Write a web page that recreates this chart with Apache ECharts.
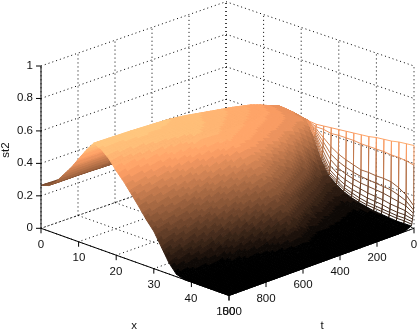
<!DOCTYPE html>
<html><head><meta charset="utf-8">
<style>html,body{margin:0;padding:0;background:#fff}#c{width:419px;height:333px}</style>
<script src="https://cdn.jsdelivr.net/npm/echarts@6/dist/echarts.min.js"></script>
</head><body><div id="c"></div>
<script>
const xTicks=[0,10,20,30,40,50];
const tTicks=[0,200,400,600,800,1000];
const zTicks=[0,0.2,0.4,0.6,0.8,1];
const zTickLabels=['0','0.2','0.4','0.6','0.8','1'];
const xGrid=[0,2,4,6,8,10,12,14,16,18,20,22,24,26,28,30,32,34,36,38,40,42,44,46,48,50];
const tGrid=[0,1,2,3,4,6,8,10,12,15,25,50,100,150,250,350,450,500,600,800,1000];
const zT0=[.26,.27,.30,.33,.37,.41,.45,.47,.465,.46,.45,.44,.435,.44,.445,.45,.455,.46,.465,.47,.48,.485,.49,.50,.505,.51];
const zT1=[.26,.265,.28,.31,.345,.39,.44,.47,.467,.461,.451,.44,.42,.42,.41,.415,.415,.415,.41,.41,.41,.41,.405,.405,.40,.39];
const zT2=[.26,.265,.28,.31,.345,.39,.44,.47,.467,.461,.451,.44,.41,.37,.33,.30,.28,.265,.25,.25,.245,.245,.24,.22,.19,.14];
const zT3=[.26,.265,.28,.31,.345,.39,.44,.471,.467,.462,.452,.44,.40,.345,.285,.255,.235,.22,.21,.205,.20,.195,.19,.175,.155,.115];
const zT4=[.26,.265,.28,.31,.345,.39,.44,.472,.468,.462,.452,.445,.39,.32,.25,.215,.195,.18,.17,.165,.16,.155,.145,.135,.125,.095];
const zT6=[.26,.265,.28,.31,.345,.39,.44,.472,.468,.463,.453,.445,.38,.295,.215,.18,.16,.145,.135,.125,.12,.115,.105,.10,.095,.075];
const zT8=[.26,.265,.28,.31,.345,.39,.44,.473,.469,.464,.454,.45,.375,.275,.19,.155,.13,.115,.105,.095,.09,.085,.075,.07,.07,.06];
const zT10=[.26,.265,.28,.31,.345,.39,.44,.474,.469,.464,.454,.45,.37,.26,.175,.14,.11,.095,.08,.07,.065,.06,.055,.05,.05,.045];
const zT12=[.26,.265,.28,.31,.345,.39,.44,.474,.47,.465,.455,.45,.365,.25,.165,.13,.10,.08,.065,.055,.05,.045,.04,.035,.035,.03];
const zT15=[.26,.265,.28,.31,.345,.39,.44,.475,.47,.465,.455,.45,.36,.24,.16,.12,.09,.07,.055,.045,.035,.03,.025,.02,.02,.02];
const zT25=[.26,.265,.28,.31,.345,.395,.445,.48,.475,.47,.465,.46,.385,.26,.16,.12,.09,.065,.05,.04,.03,.025,.02,.018,.015,.015];
const zT50=[.26,.265,.28,.31,.35,.40,.455,.49,.485,.48,.475,.475,.41,.285,.165,.12,.085,.045,.03,.02,.012,.008,.005,.003,.002,.002];
const zT100=[.26,.265,.285,.32,.36,.41,.475,.515,.51,.50,.49,.48,.45,.35,.23,.15,.105,.06,.035,.022,.01,.005,.002,0,0,0];
const zT150=[.26,.27,.29,.325,.37,.42,.49,.535,.53,.52,.505,.49,.475,.40,.30,.20,.135,.085,.045,.03,.012,.004,.001,0,0,0];
const zT250=[.26,.27,.295,.335,.385,.44,.51,.56,.555,.545,.53,.51,.49,.465,.395,.31,.225,.15,.09,.045,.025,.007,.001,0,0,0];
const zT350=[.26,.27,.30,.345,.395,.46,.53,.58,.575,.565,.555,.54,.525,.505,.45,.375,.32,.245,.175,.10,.03,.015,.003,0,0,0];
const zT450=[.26,.27,.30,.35,.40,.47,.54,.60,.595,.585,.575,.56,.545,.525,.495,.44,.38,.32,.26,.19,.11,.04,.007,0,0,0];
const zT500=[.26,.27,.305,.355,.41,.48,.55,.61,.605,.60,.59,.575,.56,.535,.485,.425,.365,.30,.245,.17,.09,.03,.004,0,0,0];
const zT600=[.26,.275,.31,.36,.42,.49,.56,.625,.62,.615,.61,.60,.55,.495,.44,.38,.32,.26,.19,.11,.04,.007,0,0,0,0];
const zT800=[.26,.28,.32,.38,.44,.51,.58,.635,.63,.615,.58,.52,.47,.41,.35,.285,.23,.15,.07,.015,0,0,0,0,0,0];
const zT1000=[.265,.28,.32,.38,.44,.51,.58,.64,.62,.58,.52,.47,.41,.35,.285,.23,.15,.07,.015,0,0,0,0,0,0,0];
const surface=[zT0,zT1,zT2,zT3,zT4,zT6,zT8,zT10,zT12,zT15,zT25,zT50,zT100,zT150,zT250,zT350,zT450,zT500,zT600,zT800,zT1000];

const zMax=0.65, wireTMax=15, wireXMin=22, bands=24;
const FONT='11.5px "Liberation Sans", Arial, sans-serif';

function copper(z){
  const k=Math.floor(Math.max(0,Math.min(0.9999,z/zMax))*bands);
  const c=k/(bands-1);
  return 'rgb('+Math.round(255*Math.min(1,1.25*c))+','+Math.round(255*0.7812*c)+','+Math.round(255*0.4975*c)+')';
}
// MATLAB-like axonometric view of (x,t,z) on the page plane
function view3(x,t,z){
  const u=x/50,v=t/1000;
  return [226+188*u-185*v, 161.1+67.2*u+67.2*v+2.9*(1-u)*(1-v)-162.3*z];
}
function line(api,a,b,style){
  const p=api.coord(a),q=api.coord(b);
  return {type:'line',shape:{x1:p[0],y1:p[1],x2:q[0],y2:q[1]},style:style};
}
function text(api,s,pt,align,extra){
  const p=api.coord(pt);
  return Object.assign({type:'text',style:{text:s,x:Math.round(p[0]),y:Math.round(p[1]),font:FONT,fill:'#111',align:align,verticalAlign:'middle'}},extra||{});
}
const dotted={stroke:'#000',lineWidth:1,lineDash:[1,3],fill:null};
const solid={stroke:'#000',lineWidth:1,fill:null};

function renderGrid(params,api){
  const ch=[];
  zTicks.forEach(z=>{
    ch.push(line(api,view3(0,1000,z),view3(0,0,z),dotted));
    ch.push(line(api,view3(0,0,z),view3(50,0,z),dotted));
  });
  tTicks.forEach(t=>{
    ch.push(line(api,view3(0,t,0),view3(0,t,1),dotted));
    ch.push(line(api,view3(0,t,0),view3(50,t,0),dotted));
  });
  xTicks.forEach(x=>{
    ch.push(line(api,view3(x,0,0),view3(x,0,1),dotted));
    ch.push(line(api,view3(x,0,0),view3(x,1000,0),dotted));
  });
  return {type:'group',children:ch};
}
function renderCell(params,api){
  const i=api.value(0),j=api.value(1);
  const x0=xGrid[i],x1=xGrid[i+1],t0=tGrid[j],t1=tGrid[j+1];
  const a=surface[j][i],b=surface[j][i+1],c=surface[j+1][i],d=surface[j+1][i+1];
  const ch=[];
  if(t1<=wireTMax && x0>=wireXMin){
    const mk=(p,q,zz)=>line(api,p,q,{stroke:copper(0.1+0.9*zz),lineWidth:1,fill:null});
    ch.push(mk(view3(x0,t0,a),view3(x1,t0,b),(a+b)/2));
    ch.push(mk(view3(x0,t0,a),view3(x0,t1,c),(a+c)/2));
    ch.push(mk(view3(x1,t0,b),view3(x1,t1,d),(b+d)/2));
    return {type:'group',children:ch};
  }
  const nx=4,nt=Math.max(1,Math.min(10,Math.ceil((t1-t0)/20)));
  const Z=(p,q)=>a*(1-p)*(1-q)+b*p*(1-q)+c*(1-p)*q+d*p*q;
  for(let m=0;m<nt;m++){
    for(let n=0;n<nx;n++){
      const p0=n/nx,p1=(n+1)/nx,q0=m/nt,q1=(m+1)/nt;
      const corners=[[p0,q0],[p1,q0],[p1,q1],[p0,q1]];
      let sum=0;
      const pts=corners.map(r=>{
        const z=Z(r[0],r[1]);sum+=z;
        return api.coord(view3(x0+(x1-x0)*r[0],t0+(t1-t0)*r[1],z));
      });
      const col=copper(sum/4);
      ch.push({type:'polygon',shape:{points:pts},style:{fill:col,stroke:col,lineWidth:1}});
    }
  }
  return {type:'group',children:ch};
}
function renderAxes(params,api){
  const ch=[];
  ch.push(line(api,view3(0,1000,0),view3(0,1000,1),solid));
  ch.push(line(api,view3(0,1000,0),view3(50,1000,0),solid));
  ch.push(line(api,view3(50,1000,0),view3(50,0,0),solid));
  zTicks.forEach((z,k)=>{
    const p=view3(0,1000,z);
    ch.push(line(api,p,[p[0]-5,p[1]],solid));
    ch.push(text(api,zTickLabels[k],[p[0]-8,p[1]],'right'));
  });
  xTicks.forEach(x=>{
    const p=view3(x,1000,0);
    ch.push(line(api,p,[p[0],p[1]+5],solid));
    ch.push(text(api,String(x),[p[0],p[1]+16.5],'center'));
  });
  tTicks.forEach(t=>{
    const p=view3(50,t,0);
    ch.push(line(api,p,[p[0],p[1]+5],solid));
    ch.push(text(api,String(t),[p[0],p[1]+16.5],'center'));
  });
  ch.push(text(api,'x',[134,326],'center'));
  ch.push(text(api,'t',[322,326],'center'));
  const st=api.coord([6,150]);
  ch.push({type:'text',x:st[0],y:st[1],rotation:Math.PI/2,style:{text:'st2',x:0,y:0,font:FONT,fill:'#111',align:'center',verticalAlign:'middle'}});
  return {type:'group',children:ch};
}
const cells=[];
for(let j=0;j<tGrid.length-1;j++)for(let i=0;i<xGrid.length-1;i++)cells.push([i,j]);

const chart=echarts.init(document.getElementById('c'),null,{renderer:'canvas',width:419,height:333});
chart.setOption({
  animation:false,
  backgroundColor:'#fff',
  grid:{left:0,right:0,top:0,bottom:0},
  xAxis:{type:'value',min:0,max:419,show:false},
  yAxis:{type:'value',min:0,max:333,inverse:true,show:false},
  series:[
    {type:'custom',coordinateSystem:'cartesian2d',renderItem:renderGrid,data:[[0,0]],silent:true,clip:false,z:1,encode:{x:0,y:1}},
    {type:'custom',coordinateSystem:'cartesian2d',renderItem:renderCell,data:cells,silent:true,clip:false,z:2,encode:{x:0,y:1},progressive:0},
    {type:'custom',coordinateSystem:'cartesian2d',renderItem:renderAxes,data:[[0,0]],silent:true,clip:false,z:3,encode:{x:0,y:1}}
  ]
});
</script></body></html>
